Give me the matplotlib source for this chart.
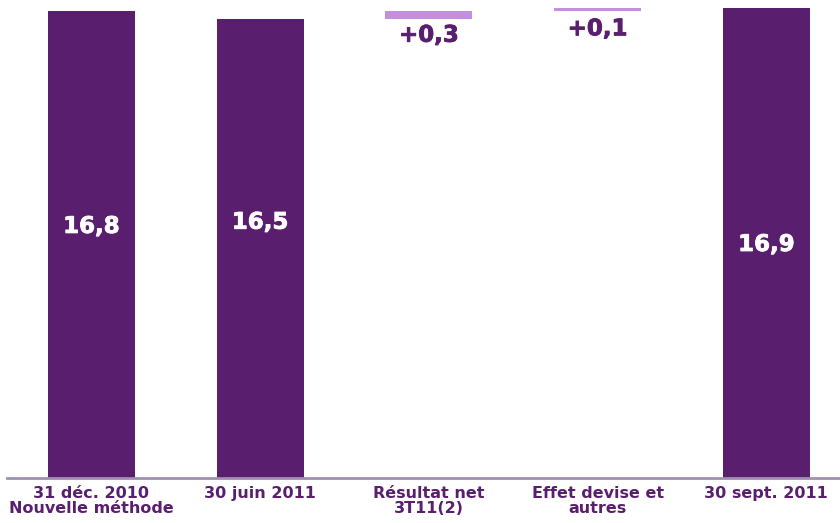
import matplotlib
matplotlib.use("Agg")
import matplotlib.pyplot as plt
import matplotlib.patheffects as pe

categories = ["31 déc. 2010\nNouvelle méthode", "30 juin 2011", "Résultat net\n3T11(2)",
              "Effet devise et\nautres", "30 sept. 2011"]
values = [16.8, 16.5, 0.3, 0.1, 16.9]
kinds = ["total", "total", "delta", "delta", "total"]

DARK = "#5A1E6E"
LIGHT = "#C58FE0"

fig = plt.figure(figsize=(8.4, 5.23), dpi=100)
ax = fig.add_axes([7 / 840, 45 / 523, 833 / 840, 478 / 523])

slot = 168.75
ax.set_xlim(-0.5, -0.5 + 833 / slot)
ax.set_ylim(0, 478 / 27.8)

x = list(range(len(categories)))
running = 0.0
bottoms, heights, colors = [], [], []
for v, k in zip(values, kinds):
    if k == "total":
        bottoms.append(0.0)
        heights.append(v)
        colors.append(DARK)
        running = v
    else:
        bottoms.append(running)
        heights.append(v)
        colors.append(LIGHT)
        running += v

ax.bar(x, heights, bottom=bottoms, width=87 / slot, color=colors, linewidth=0)

def heavy(color, w):
    return [pe.Stroke(linewidth=w, foreground=color), pe.Normal()]

# value labels
label_y_total = {0: 9.05, 1: 9.2, 4: 8.4}
delta_offset = {2: -3.2, 3: -4.6}
for i, (v, k, b) in enumerate(zip(values, kinds, bottoms)):
    txt = f"{v:.1f}".replace(".", ",")
    if k == "total":
        ax.text(i, label_y_total[i], txt, ha="center", va="center", color="white",
                fontsize=16.5, fontweight="bold", path_effects=heavy("white", 0.6))
    else:
        txt = "+" + txt
        ax.annotate(txt, xy=(i, b), xytext=(0, delta_offset[i]),
                    textcoords="offset points", ha="center", va="top",
                    color=DARK, fontsize=16.5, fontweight="bold",
                    path_effects=heavy(DARK, 0.6))

ax.set_xticks(x)
ax.set_xticklabels(categories, fontsize=11.5, fontweight="bold", color=DARK,
                   linespacing=1.0)
ax.tick_params(axis="x", length=0, pad=6)
ax.set_yticks([])
for s in ["top", "right", "left"]:
    ax.spines[s].set_visible(False)
ax.spines["bottom"].set_color("#A090B0")
ax.spines["bottom"].set_linewidth(2)

fig.savefig("out.png", dpi=100)
